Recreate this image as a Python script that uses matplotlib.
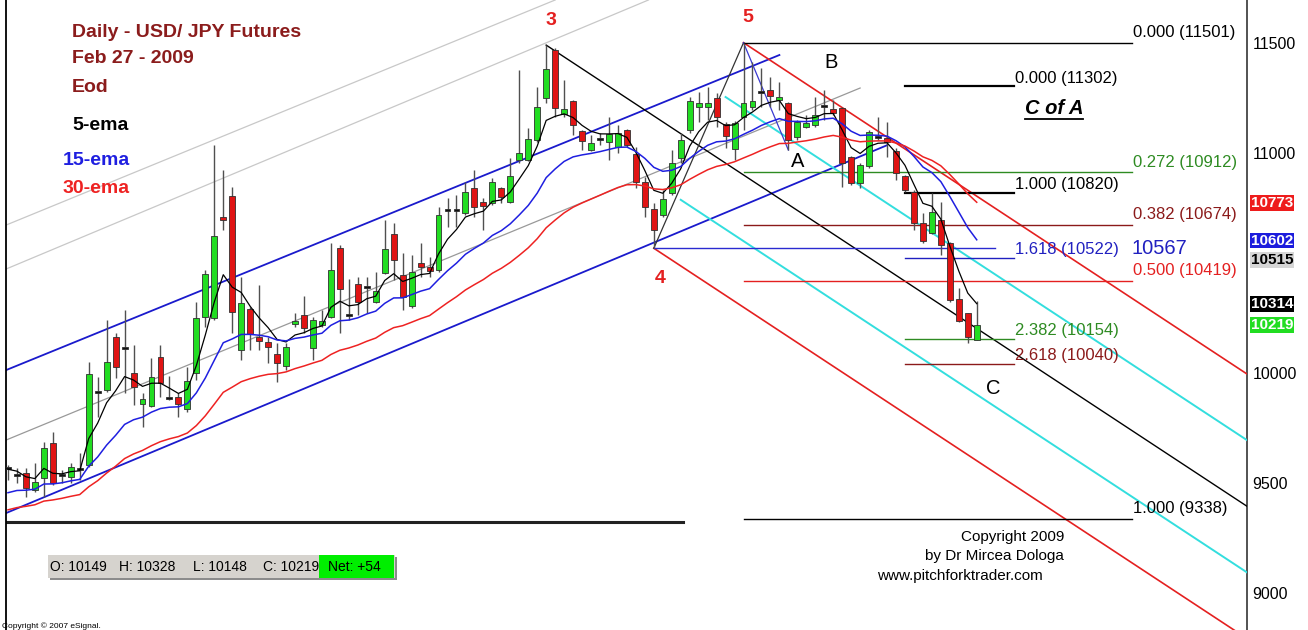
import numpy as np
import matplotlib
matplotlib.use("Agg")
import matplotlib.pyplot as plt
from matplotlib.patches import Rectangle
from matplotlib.lines import Line2D
from matplotlib.transforms import blended_transform_factory

W, H = 1308, 630
plt.rcParams['font.family'] = ['Liberation Sans', 'DejaVu Sans']

# daily USD/JPY futures bars, oldest first (prices)
opens = [9568, 9536, 9545, 9468, 9522, 9682, 9536, 9527, 9563, 9582,
         9913, 9922, 10163, 10113, 10000, 9859, 9850, 10072, 9886, 9891,
         9836, 10000, 10254, 10250, 10709, 10804, 10104, 10291, 10163, 10141,
         10086, 10032, 10222, 10263, 10113, 10218, 10254, 10568, 10263, 10404,
         10391, 10322, 10454, 10632, 10445, 10304, 10500, 10481, 10468, 10741,
         10741, 10727, 10840, 10777, 10772, 10840, 10777, 10968, 10968, 11059,
         11250, 11468, 11177, 11236, 11100, 11013, 11063, 11050, 11027, 11104,
         10995, 10868, 10745, 10718, 10818, 10977, 11104, 11209, 11209, 11250,
         11131, 11018, 11163, 11209, 11277, 11286, 11240, 11227, 11072, 11118,
         11127, 11213, 11200, 11204, 10981, 10863, 10940, 11072, 11068, 11009,
         10895, 10822, 10682, 10636, 10695, 10591, 10336, 10272, 10149]
highs = [9582, 9568, 9568, 9591, 9686, 9732, 9559, 9591, 9636, 10050,
         9982, 10241, 10182, 10286, 10127, 9909, 10068, 10127, 9986, 9909,
         10027, 10322, 10468, 11036, 10922, 10845, 10436, 10300, 10400, 10163,
         10136, 10136, 10272, 10350, 10254, 10286, 10591, 10582, 10427, 10436,
         10436, 10459, 10695, 10682, 10545, 10536, 10591, 10527, 10754, 10795,
         10809, 10868, 10922, 10795, 10886, 10845, 10977, 11377, 11113, 11300,
         11490, 11477, 11331, 11240, 11104, 11081, 11091, 11163, 11127, 11109,
         11027, 10891, 10772, 10831, 11013, 11091, 11254, 11277, 11300, 11272,
         11140, 11145, 11501, 11413, 11386, 11345, 11322, 11231, 11150, 11172,
         11254, 11286, 11240, 11209, 10986, 10954, 11104, 11163, 11140, 11022,
         10900, 10831, 10727, 10818, 10777, 10595, 10386, 10272, 10328]
lows = [9513, 9500, 9436, 9459, 9436, 9491, 9500, 9500, 9513, 9572,
        9800, 9913, 9977, 9909, 9854, 9754, 9845, 9891, 9877, 9800,
        9822, 9968, 10209, 10241, 10650, 10182, 10059, 10104, 10104, 10045,
        9959, 10013, 10209, 10182, 10059, 10209, 10250, 10182, 10241, 10263,
        10272, 10318, 10450, 10422, 10286, 10295, 10436, 10436, 10459, 10663,
        10663, 10718, 10709, 10650, 10763, 10772, 10772, 10954, 10963, 11050,
        11227, 11163, 11163, 11081, 11013, 11009, 11036, 10968, 11000, 11027,
        10840, 10709, 10567, 10709, 10809, 10954, 11091, 11140, 11150, 11118,
        11022, 10968, 11104, 11195, 11209, 11209, 11195, 11013, 11059, 11113,
        11118, 11150, 11172, 10845, 10854, 10840, 10931, 11059, 10981, 10877,
        10822, 10650, 10591, 10632, 10536, 10322, 10232, 10136, 10148]
closes = [9568, 9536, 9477, 9504, 9659, 9500, 9536, 9572, 9563, 9995,
          9913, 10050, 10027, 10113, 9936, 9882, 9982, 9954, 9886, 9859,
          9963, 10250, 10450, 10622, 10695, 10277, 10318, 10177, 10145, 10118,
          10045, 10118, 10236, 10204, 10241, 10236, 10468, 10382, 10263, 10322,
          10391, 10372, 10563, 10513, 10345, 10459, 10481, 10463, 10718, 10741,
          10741, 10822, 10754, 10759, 10868, 10800, 10895, 11000, 11063, 11209,
          11381, 11204, 11200, 11127, 11054, 11045, 11063, 11086, 11091, 11036,
          10868, 10754, 10650, 10790, 10954, 11059, 11236, 11227, 11227, 11163,
          11077, 11136, 11227, 11236, 11277, 11259, 11254, 11059, 11140, 11136,
          11172, 11213, 11181, 10954, 10863, 10945, 11095, 11072, 11050, 10909,
          10831, 10682, 10600, 10731, 10582, 10332, 10236, 10163, 10219]

ema_periods = [5, 15, 30]
ema_seeds = [9560, 9440, 9365]          # average values just before the first bar
ema_colors = ['black', '#1f1fe0', '#ee2222']
ema_names = ['5-ema', '15-ema', '30-ema']

# swing points (bar index, price)
p3 = (60, 11490)
p4 = (72, 10567)
p5 = (82, 11501)
a_low = (87, 11013)

# channel and trend lines as (bar, price) end points
chan_upper = ([-1, 86], [10000, 11445])
chan_lower = ([-1, 98], [9350, 11035])
gray_mid = ([-1, 95], [9682, 11295])
gray_far1 = ([-1, 61], [10659, 11695])
gray_far2 = ([-1, 71.4], [10459, 11695])
base_line = ([-1, 75.3], [9325, 9325])

# fibonacci levels
long_levels = [11501, 10912, 10674, 10419, 9338]
long_labels = ['0.000 (11501)', '0.272 (10912)', '0.382 (10674)', '0.500 (10419)', '1.000 (9338)']
long_colors = ['black', '#2e8b22', '#8b1a1a', '#e42020', 'black']
short_levels = [11302, 10820, 10522, 10154, 10040]
short_labels = ['0.000 (11302)', '1.000 (10820)', '1.618 (10522)', '2.382 (10154)', '2.618 (10040)']
short_colors = ['black', 'black', '#2020c0', '#2e8b22', '#8b1a1a']
target_level = 10567

# values flagged on the price axis (the 10515 box hides the 10500 label)
axis_values = [10773, 10602, 10515, 10314, 10219]
axis_box_colors = ['#ee1c1c', '#1c1cdd', '#d6d6d6', 'black', '#22dd22']
axis_text_colors = ['white', 'white', 'black', 'white', 'white']
price_ticks = [9000, 9500, 10000, 11000, 11500]

last_bar = ['O: 10149', 'H: 10328', 'L: 10148', 'C: 10219']
net_text = 'Net: +54'


def ema(values, period, seed):
    k = 2.0 / (period + 1)
    out = []
    prev = seed
    for v in values:
        prev = prev + k * (v - prev)
        out.append(prev)
    return out


def px(x, y):
    return x / W, 1 - y / H


fig = plt.figure(figsize=(W / 100, H / 100), dpi=100)
ax = fig.add_axes([6 / W, 0, 1241 / W, 1])
ax.set_xlim(-0.22, 138.13)
ax.set_ylim(8832, 11695)

# faint parallels and channel
for xs, ys in [gray_far1, gray_far2]:
    ax.plot(xs, ys, color='#c8c8c8', lw=0.9, zorder=1)
ax.plot(*gray_mid, color='#999999', lw=0.9, zorder=1)
ax.plot(*chan_upper, color='#1a1acc', lw=1.3, zorder=2)
ax.plot(*chan_lower, color='#1a1acc', lw=1.3, zorder=2)
ax.plot(*base_line, color='#222222', lw=2.2, zorder=2)

# pitchfork from 3 with 4 and 5
mid_x = (p4[0] + p5[0]) / 2
mid_y = (p4[1] + p5[1]) / 2
slope = (mid_y - p3[1]) / (mid_x - p3[0])
x_end = 140


def fork(x0, base):
    return [x0, x_end], [base[1] + slope * (x0 - base[0]), base[1] + slope * (x_end - base[0])]


def warn(x0, base):
    # halfway between the median line and a tine
    ys = []
    for x in (x0, x_end):
        med = p3[1] + slope * (x - p3[0])
        tine = base[1] + slope * (x - base[0])
        ys.append((med + tine) / 2)
    return [x0, x_end], ys


ax.plot(*fork(p3[0], p3), color='black', lw=1.0, zorder=3)
ax.plot(*fork(p5[0], p5), color='#e42020', lw=1.2, zorder=3)
ax.plot(*fork(p4[0], p4), color='#e42020', lw=1.2, zorder=3)
ax.plot(*warn(80, p5), color='#33dede', lw=1.4, zorder=3)
ax.plot(*warn(75, p4), color='#33dede', lw=1.4, zorder=3)

# swing connections
ax.plot([p4[0], p5[0]], [p4[1], p5[1]], color='#333333', lw=0.9, zorder=3)
ax.plot([p5[0], a_low[0]], [p5[1], a_low[1]], color='#3a3ad0', lw=0.9, zorder=3)
ax.plot([p4[0], 110], [target_level, target_level], color='#2a2ad0', lw=1.0, zorder=3)

# fib levels
for lvl, lab, col in zip(long_levels, long_labels, long_colors):
    ax.plot([p5[0], 125.3], [lvl, lvl], color=col, lw=1.0, zorder=3)
    ax.text(125.4, lvl + 26, lab, color=col, fontsize=12, va='baseline', ha='left')
for lvl, lab, col in zip(short_levels, short_labels, short_colors):
    lw = 1.6 if col == 'black' else 1.0
    ax.plot([100, 112.2], [lvl, lvl], color=col, lw=lw, zorder=3)
    ax.text(112.3, lvl + 18, lab, color=col, fontsize=12, va='baseline', ha='left')
ax.text(125.2, target_level, str(target_level), color='#2020c0', fontsize=14.5,
        va='center', ha='left')

# candles
x = np.arange(len(closes))
o = np.array(opens, float)
c = np.array(closes, float)
ax.vlines(x, lows, highs, color='#505050', lw=1.0, zorder=4)
body_bottom = np.minimum(o, c)
body_h = np.abs(c - o)
face = np.where(c > o, '#22dd22', '#e01414')
face = np.where(body_h == 0, '#111111', face)
body_bottom = np.where(body_h == 0, o - 5, body_bottom)
body_h = np.where(body_h == 0, 10, body_h)
ax.bar(x, body_h, bottom=body_bottom, width=0.66, color=face, edgecolor='#303030',
       linewidth=0.6, zorder=5)

# moving averages
for per, seed, col in zip(ema_periods, ema_seeds, ema_colors):
    lw = 0.9 if per == 5 else 1.1
    ax.plot(x, ema(closes, per, seed), color=col, lw=lw, zorder=6)

# wave labels
for s, xi, yi, col in [('3', 60.5, 11600, '#e42020'), ('5', 82.5, 11615, '#e42020'),
                       ('4', 72.7, 10430, '#e42020')]:
    ax.text(xi, yi, s, color=col, fontsize=14, fontweight='bold', ha='center', va='center')
for s, xi, yi in [('B', 91.8, 11410), ('A', 88.0, 10960), ('C', 109.8, 9930)]:
    ax.text(xi, yi, s, color='black', fontsize=14.5, ha='center', va='center')

coa = ax.text(116.6, 11200, 'C of A', color='black', fontsize=14.5, fontweight='bold',
              fontstyle='italic', ha='center', va='center')

# price axis
ax.yaxis.tick_right()
ax.set_yticks(price_ticks)
ax.set_yticklabels([str(t) for t in price_ticks])
ax.tick_params(axis='y', length=0, pad=4, labelsize=11.5)
ax.set_xticks([])
for side in ['top', 'bottom']:
    ax.spines[side].set_visible(False)
ax.spines['left'].set_color('black')
ax.spines['left'].set_linewidth(1.3)
ax.spines['right'].set_color('#444444')
ax.spines['right'].set_linewidth(1.3)

tr = blended_transform_factory(fig.transFigure, ax.transData)
for v, bc, tc in zip(axis_values, axis_box_colors, axis_text_colors):
    ax.text(1251 / W, v, str(v), transform=tr, color=tc, fontsize=11, va='center', ha='left',
            fontweight='bold', clip_on=False,
            bbox=dict(boxstyle='square,pad=0.06', fc=bc, ec='none'))

# heading block
dark_red = '#8b1c1c'
for s, y in [('Daily - USD/ JPY Futures', 37), ('Feb 27 - 2009', 63), ('Eod', 92)]:
    fig.text(*px(72, y), s, color=dark_red, fontsize=14, fontweight='bold', va='baseline')
for s, col, xx, y in zip(ema_names, ema_colors, [72, 63, 63], [130, 165, 193]):
    fig.text(*px(xx, y), s, color=col, fontsize=14, fontweight='bold', va='baseline')

# last-bar box
fig.patches.append(Rectangle(px(50, 580), 347 / W, 23 / H, transform=fig.transFigure,
                             fc='#8c8c8c', ec='none', zorder=1))
fig.patches.append(Rectangle(px(48, 578), 347 / W, 23 / H, transform=fig.transFigure,
                             fc='#d6d3ce', ec='none', zorder=2))
fig.patches.append(Rectangle(px(319, 578), 75 / W, 23 / H, transform=fig.transFigure,
                             fc='#00ee00', ec='none', zorder=3))
for s, xx in zip(last_bar, [50, 119, 193, 263]):
    fig.text(*px(xx, 567), s, fontsize=10, va='center', color='black', zorder=4)
fig.text(*px(328, 567), net_text, fontsize=10, va='center', color='black', zorder=4)

fig.text(*px(2, 626), 'Copyright \u00a9 2007 eSignal.', fontsize=6, va='center')
fig.text(*px(1064, 541), 'Copyright 2009', fontsize=11, ha='right', va='baseline')
fig.text(*px(1064, 560), 'by Dr Mircea Dologa', fontsize=11, ha='right', va='baseline')
fig.text(*px(1043, 580), 'www.pitchforktrader.com', fontsize=11, ha='right', va='baseline')

# underline "C of A"
fig.canvas.draw()
bb = coa.get_window_extent()
fig.add_artist(Line2D([bb.x0 / W, bb.x1 / W], [(bb.y0 - 1) / H, (bb.y0 - 1) / H],
                      transform=fig.transFigure, color='black', lw=1.3))

fig.savefig('out.png', dpi=100)
